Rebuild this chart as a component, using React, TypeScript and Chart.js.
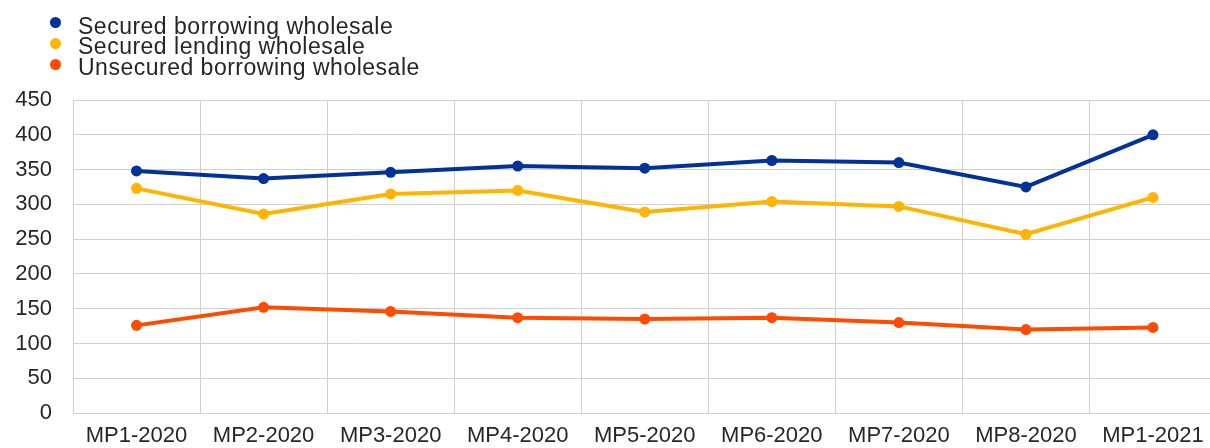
import React, { useEffect, useRef } from "react";
import { Chart, registerables } from "chart.js";

Chart.register(...registerables);

const categories = [
  "MP1-2020",
  "MP2-2020",
  "MP3-2020",
  "MP4-2020",
  "MP5-2020",
  "MP6-2020",
  "MP7-2020",
  "MP8-2020",
  "MP1-2021",
];

const securedBorrowing = [348, 337, 346, 355, 352, 363, 360, 325, 400];
const securedLending = [323, 286, 315, 320, 289, 304, 297, 257, 310];
const unsecuredBorrowing = [126, 152, 146, 137, 135, 137, 130, 120, 123];

const seriesNames = [
  "Secured borrowing wholesale",
  "Secured lending wholesale",
  "Unsecured borrowing wholesale",
];
const seriesColors = ["#003299", "#FFB400", "#FF4B00"];

const yMin = 0;
const yMax = 450;
const yStep = 50;

const FONT = '"Liberation Sans", Arial, sans-serif';
const TEXT_COLOR = "#262626";
const GRID_COLOR = "#d0d0d0";

export default function App() {
  const ref = useRef<HTMLCanvasElement | null>(null);

  useEffect(() => {
    if (!ref.current) return;
    const seriesValues = [securedBorrowing, securedLending, unsecuredBorrowing];
    const chart = new Chart(ref.current, {
      type: "line",
      data: {
        labels: categories,
        datasets: seriesValues.map((values, i) => ({
          label: seriesNames[i],
          data: values,
          borderColor: seriesColors[i],
          backgroundColor: seriesColors[i],
          pointBackgroundColor: seriesColors[i],
          pointBorderColor: seriesColors[i],
          borderWidth: 4,
          pointRadius: 5.5,
          pointBorderWidth: 0,
          tension: 0,
          fill: false,
        })),
      },
      options: {
        animation: false,
        responsive: false,
        devicePixelRatio: 1,
        layout: { padding: { top: 100, left: 0, right: 0, bottom: 0 } },
        plugins: {
          legend: { display: false },
          tooltip: { enabled: false },
        },
        scales: {
          x: {
            offset: true,
            grid: {
              offset: true,
              color: GRID_COLOR,
              lineWidth: 1,
              drawTicks: false,
            },
            border: { color: GRID_COLOR, width: 1 },
            ticks: {
              font: { family: FONT, size: 22 },
              color: TEXT_COLOR,
              padding: 10,
              maxRotation: 0,
              autoSkip: false,
            },
            afterFit: (s: any) => {
              s.height = 37;
            },
          },
          y: {
            min: yMin,
            max: yMax,
            grid: { color: GRID_COLOR, lineWidth: 1, drawTicks: false },
            border: { color: GRID_COLOR, width: 1 },
            ticks: {
              stepSize: yStep,
              font: { family: FONT, size: 22 },
              color: TEXT_COLOR,
              padding: 21,
            },
            afterFit: (s: any) => {
              s.width = 73;
            },
          },
        },
      },
    });
    return () => chart.destroy();
  }, []);

  const legendTops = [15.7, 36.4, 57.1];
  const dotCenters = [22.5, 43, 64];

  return (
    <div
      style={{
        position: "fixed",
        left: 0,
        top: 0,
        width: 1210,
        height: 448,
        overflow: "hidden",
        background: "#ffffff",
      }}
    >
      <canvas
        ref={ref}
        width={1222}
        height={450}
        style={{ position: "absolute", left: 0, top: 0 }}
      />
      {seriesNames.map((name, i) => (
        <React.Fragment key={name}>
          <div
            style={{
              position: "absolute",
              left: 50,
              top: dotCenters[i] - 5.5,
              width: 11,
              height: 11,
              borderRadius: "50%",
              background: seriesColors[i],
            }}
          />
          <div
            style={{
              position: "absolute",
              left: 78,
              top: legendTops[i],
              fontFamily: FONT,
              fontSize: 23,
              lineHeight: "20.7px",
              letterSpacing: "0.5px",
              color: TEXT_COLOR,
              whiteSpace: "nowrap",
            }}
          >
            {name}
          </div>
        </React.Fragment>
      ))}
    </div>
  );
}
